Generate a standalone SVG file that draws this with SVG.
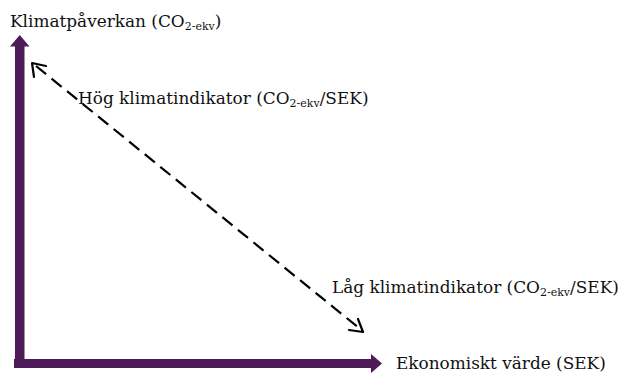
<svg xmlns="http://www.w3.org/2000/svg" width="618" height="373" viewBox="0 0 618 373">
<style>
.lbl{font-family:"DejaVu Serif","Liberation Serif",serif;font-size:16.9px;fill:#111}
.sub{font-size:11px}
.axis{fill:#4f1a58}
.dash{stroke:#000;stroke-width:2.2;fill:none;stroke-dasharray:13 7}
.head{stroke:#000;stroke-width:2.2;fill:none;stroke-linecap:round;stroke-linejoin:round}
</style>
<rect width="618" height="373" fill="#fff"/>
<g id="connectors">
<g id="y-axis"><rect class="axis" x="15" y="45" width="9.5" height="323"/><polygon class="axis" points="10,46.5 19.75,35 29.5,46.5"/></g>
<g id="x-axis"><rect class="axis" x="14" y="359" width="359" height="9"/><polygon class="axis" points="371,354 382,363.5 371,373"/></g>
<g id="diagonal">
<line class="dash" x1="36" y1="66" x2="359" y2="328"/>
<polyline class="head" points="34,77 32,63 46,66"/>
<polyline class="head" points="349,330 363,332 358,319"/>
</g>
</g>
<g id="label-y"><text class="lbl" x="10" y="27">Klimatpåverkan (CO<tspan class="sub" dy="3">2-ekv</tspan><tspan dy="-3">)</tspan></text></g>
<g id="label-hog"><text class="lbl" x="78" y="104">Hög klimatindikator (CO<tspan class="sub" dy="3">2-ekv</tspan><tspan dy="-3">/SEK)</tspan></text></g>
<g id="label-lag"><text class="lbl" x="332" y="293">Låg klimatindikator (CO<tspan class="sub" dy="3">2-ekv</tspan><tspan dy="-3">/SEK)</tspan></text></g>
<g id="label-x"><text class="lbl" x="396" y="369">Ekonomiskt värde (SEK)</text></g>
</svg>
